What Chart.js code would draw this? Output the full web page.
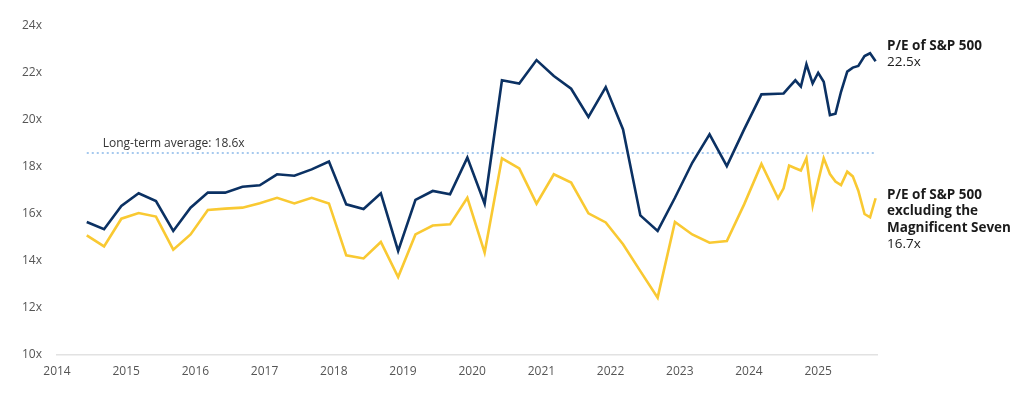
<!DOCTYPE html>
<html>
<head>
<meta charset="utf-8">
<script src="https://cdn.jsdelivr.net/npm/chart.js@4.4.1/dist/chart.umd.min.js"></script>
<style>
  html, body { margin: 0; padding: 0; background: #fff; }
  #wrap { position: relative; width: 1024px; height: 403px; }
  .lbl { position: absolute; left: 887px; font-family: 'Open Sans', sans-serif; font-size: 13.5px; line-height: 16.3px; color: #1b1b1b; white-space: nowrap; }
  .lbl b { font-weight: 700; }
</style>
</head>
<body>
<div id="wrap">
  <canvas id="pe" width="1024" height="403"></canvas>
  <div class="lbl" style="top:37px"><b>P/E of S&amp;P 500</b><br>22.5x</div>
  <div class="lbl" style="top:186px"><b>P/E of S&amp;P 500<br>excluding the<br>Magnificent Seven</b><br>16.7x</div>
</div>
<script>
// dates as decimal years: quarterly to Mar 2024, then monthly
var dates = [
  2014.43, 2014.68, 2014.93, 2015.18, 2015.43, 2015.68, 2015.93, 2016.18,
  2016.43, 2016.68, 2016.93, 2017.18, 2017.43, 2017.68, 2017.93, 2018.18,
  2018.43, 2018.68, 2018.93, 2019.18, 2019.43, 2019.68, 2019.93, 2020.18,
  2020.43, 2020.68, 2020.93, 2021.18, 2021.43, 2021.68, 2021.93, 2022.18,
  2022.43, 2022.68, 2022.93, 2023.18, 2023.43, 2023.68, 2023.93, 2024.18,
  2024.42, 2024.5, 2024.58, 2024.67, 2024.75, 2024.83, 2024.92, 2025.0,
  2025.08, 2025.17, 2025.25, 2025.33, 2025.42, 2025.5, 2025.58, 2025.67,
  2025.75, 2025.83
]

var spx = [
  15.66, 15.35, 16.34, 16.88, 16.55, 15.28, 16.27, 16.91,
  16.91, 17.16, 17.22, 17.69, 17.63, 17.90, 18.23, 16.41,
  16.21, 16.88, 14.43, 16.60, 16.98, 16.84, 18.40, 16.44,
  21.69, 21.55, 22.55, 21.87, 21.33, 20.13, 21.40, 19.60,
  15.94, 15.28, 16.69, 18.18, 19.39, 18.04, 19.60, 21.09,
  21.12, 21.13, 21.40, 21.69, 21.42, 22.37, 21.56, 22.01,
  21.63, 20.21, 20.27, 21.20, 22.06, 22.23, 22.30, 22.72,
  22.84, 22.50
]

var spxExMag7 = [
  15.09, 14.62, 15.80, 16.04, 15.89, 14.48, 15.13, 16.17,
  16.23, 16.27, 16.46, 16.69, 16.45, 16.69, 16.45, 14.24,
  14.11, 14.81, 13.32, 15.13, 15.51, 15.56, 16.69, 14.36,
  18.37, 17.94, 16.44, 17.69, 17.34, 16.03, 15.64, 14.71,
  13.57, 12.44, 15.66, 15.13, 14.78, 14.85, 16.41, 18.13,
  16.67, 17.09, 18.06, 17.95, 17.85, 18.37, 16.36, 17.40,
  18.37, 17.70, 17.38, 17.23, 17.80, 17.60, 16.99, 16.00,
  15.86, 16.67
]

var longTermAvg = 18.6
var yearTicks = [2014, 2015, 2016, 2017, 2018, 2019, 2020, 2021, 2022, 2023, 2024, 2025]
var yTicks = [10, 12, 14, 16, 18, 20, 22, 24]

function toPoints(vals){
  var pts = []
  for (var k = 0; k < vals.length; k++){
    pts.push({x: dates[k], y: vals[k]})
  }
  return pts
}

Chart.defaults.font.family = "'Open Sans', sans-serif"

// text over the dotted average line
const avgLabel = {
  id: 'avgLabel',
  afterDatasetsDraw(chart){
    const c = chart.ctx
    const xs = chart.scales.x, ys = chart.scales.y
    c.save()
    c.font = "12px 'Open Sans', sans-serif"
    c.fillStyle = '#333'
    c.textBaseline = 'middle'
    c.fillText('Long-term average: ' + longTermAvg + 'x', xs.getPixelForValue(dates[0]) + 16, ys.getPixelForValue(longTermAvg) - 9)
    c.restore()
  }
}

const ctx = document.getElementById('pe').getContext('2d')
const peChart = new Chart(ctx, {
  type: 'line',
  data: {
    datasets: [{
      label: 'P/E of S&P 500',
      data: toPoints(spx),
      borderColor: '#0b3163',
      borderWidth: 2.6,
      pointRadius: 0,
      order: 1
    }, {
      label: 'P/E of S&P 500 excluding the Magnificent Seven',
      data: toPoints(spxExMag7),
      borderColor: '#f9c932',
      borderWidth: 2.6,
      pointRadius: 0,
      order: 2
    }, {
      label: 'Long-term average',
      data: [{x: dates[0], y: longTermAvg}, {x: dates[dates.length - 1], y: longTermAvg}],
      borderColor: '#a6c9ee',
      borderWidth: 2,
      borderDash: [2, 3],
      pointRadius: 0,
      order: 3
    }]
  },
  options: {
    responsive: false,
    animation: false,
    layout: { padding: { left: 22, right: 147, top: 26, bottom: 19 } },
    plugins: { legend: { display: false }, tooltip: { enabled: false } },
    scales: {
      x: {
        type: 'linear',
        min: 2014,
        max: 2025.85,
        grid: { display: false },
        border: { display: true, color: '#e2e2e2', width: 1.5 },
        afterBuildTicks: function(s){ s.ticks = yearTicks.map(function(v){ return {value: v} }) },
        afterFit: function(s){ s.height = 29 },
        ticks: { padding: 1, color: '#555', font: { size: 12 }, autoSkip: false, maxRotation: 0,
                 callback: function(v){ return String(v) } }
      },
      y: {
        min: 10,
        max: 24,
        grid: { display: false },
        border: { display: false },
        afterBuildTicks: function(s){ s.ticks = yTicks.map(function(v){ return {value: v} }) },
        afterFit: function(s){ s.width = 35 },
        ticks: { color: '#555', font: { size: 12 }, crossAlign: 'far', padding: 0,
                 callback: function(v){ return v + 'x' } }
      }
    }
  },
  plugins: [avgLabel]
})
</script>
</body>
</html>
